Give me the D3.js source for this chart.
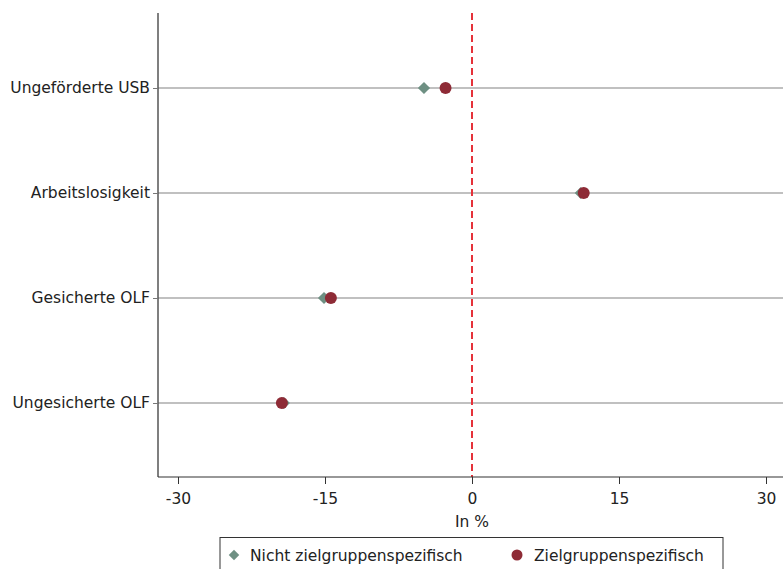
<!DOCTYPE html>
<html><head><meta charset="utf-8">
<script src="https://cdn.jsdelivr.net/npm/d3@7"></script>
<style>body{margin:0;background:#fff;} svg{display:block;font-family:"DejaVu Sans", sans-serif;}</style>
</head><body><svg id="c" width="783" height="569"></svg>
<script>
const categories = ["Ungeförderte USB","Arbeitslosigkeit","Gesicherte OLF","Ungesicherte OLF"];
const nichtZiel = [-4.9, 11.1, -15.1, -19.2];
const ziel = [-2.7, 11.4, -14.4, -19.4];
const xTicks = [-30, -15, 0, 15, 30];
const seriesNames = ["Nicht zielgruppenspezifisch","Zielgruppenspezifisch"];

(function(){
const svg = d3.select("#c");
const pL = 158, pT = 13, pB = 477, pR = 783;
const FS = 15.5, FF = "'DejaVu Sans', sans-serif", TC = "#222";
const x = d3.scaleLinear().domain([-30, 30]).range([178, 766]);
const y = d3.scalePoint().domain(categories).range([88, 403]);

const cDiamond = "#6e9083", cCircle = "#8e2b36";

// gridlines
svg.append("g").selectAll("line").data(categories).join("line")
  .attr("x1", pL).attr("x2", pR).attr("y1", d=>y(d)).attr("y2", d=>y(d))
  .attr("stroke", "#ababab").attr("stroke-width", 1.5);

// zero line
svg.append("line").attr("x1", x(0)).attr("x2", x(0)).attr("y1", pT).attr("y2", pB)
  .attr("stroke", "#e5323a").attr("stroke-width", 1.2).attr("stroke-dasharray", "7,4")
  .attr("shape-rendering", "crispEdges");

// y axis
const yAxis = d3.axisLeft(y).tickSize(5).tickPadding(3);
const gy = svg.append("g").attr("transform", `translate(${pL},0)`).call(yAxis);
gy.select(".domain").attr("d", `M0,${pT}V${pB}`).attr("stroke", "#555").attr("stroke-width", 1.5);
gy.selectAll(".tick line").attr("stroke", "#777");
gy.selectAll(".tick text").attr("font-size", FS).attr("fill", TC).attr("font-family", FF);

// x axis
const xAxis = d3.axisBottom(x).tickValues(xTicks).tickSize(7).tickPadding(9).tickFormat(d => String(d));
const gx = svg.append("g").attr("transform", `translate(0,${pB})`).call(xAxis);
gx.select(".domain").attr("d", `M${pL},0H${pR}`).attr("stroke", "#333").attr("stroke-width", 1.2);
gx.selectAll(".tick line").attr("stroke", "#333");
gx.selectAll(".tick text").attr("font-size", FS).attr("fill", TC).attr("font-family", FF);

svg.append("text").attr("x", x(0)).attr("y", 527).attr("text-anchor", "middle")
  .attr("font-size", FS).attr("fill", TC).attr("font-family", FF).text("In %");

// points
const diamond = d3.symbol().type(d3.symbolDiamond2).size(95);
svg.append("g").selectAll("path").data(nichtZiel).join("path")
  .attr("d", diamond)
  .attr("transform", (d,i)=>`translate(${x(d)},${y(categories[i])})`)
  .attr("fill", cDiamond);
svg.append("g").selectAll("circle").data(ziel).join("circle")
  .attr("cx", d=>x(d)).attr("cy", (d,i)=>y(categories[i])).attr("r", 6)
  .attr("fill", cCircle);

// legend
svg.append("rect").attr("x", 220).attr("y", 537.5).attr("width", 503).attr("height", 40)
  .attr("fill", "#fff").attr("stroke", "#333").attr("stroke-width", 1);
svg.append("path").attr("d", d3.symbol().type(d3.symbolDiamond2).size(70)())
  .attr("transform", "translate(234,555)").attr("fill", cDiamond);
svg.append("text").attr("x", 250).attr("y", 561).attr("font-size", FS).attr("font-family", FF).attr("fill", TC).text(seriesNames[0]);
svg.append("circle").attr("cx", 517).attr("cy", 555).attr("r", 5.5).attr("fill", cCircle);
svg.append("text").attr("x", 534).attr("y", 561).attr("font-size", FS).attr("font-family", FF).attr("fill", TC).text(seriesNames[1]);
})();
</script></body></html>
